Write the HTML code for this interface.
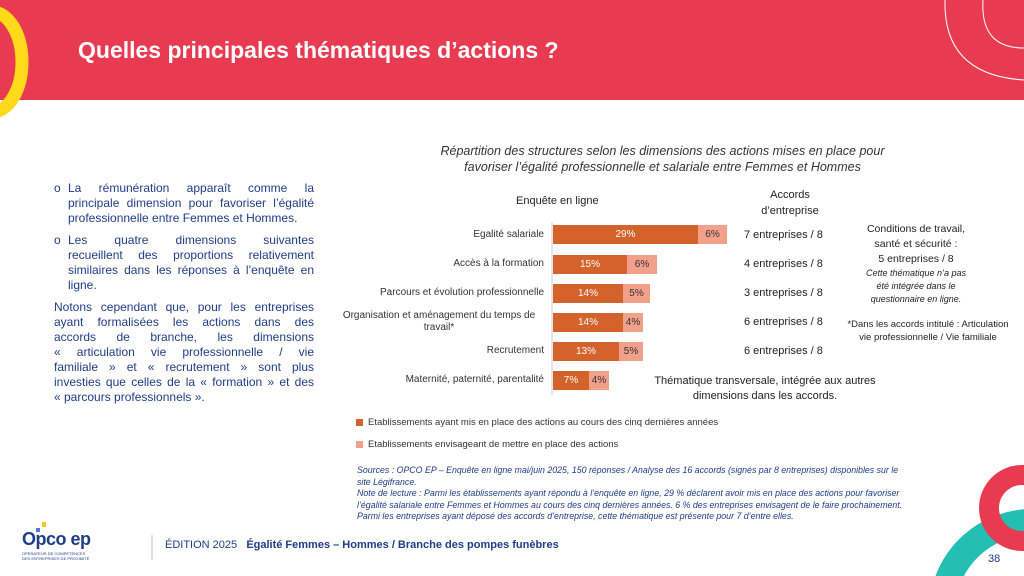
<!DOCTYPE html>
<html><head><meta charset="utf-8"><style>
html,body{margin:0;width:1024px;height:576px;overflow:hidden}
body{position:relative;background:#fff;font-family:"Liberation Sans",Arial,sans-serif}
.a{position:absolute}
.hdr{left:0;top:0;width:1024px;height:100px;background:#E83A50}
.title{left:78px;top:37px;color:#fff;font-weight:bold;font-size:23px}
.lt{color:#1F3C88;font-size:12px;line-height:15px}
.j{display:block;text-align:justify;text-align-last:justify;white-space:nowrap}
.n{display:block;white-space:nowrap}
.lab{font-size:10px;color:#333;text-align:right;width:200px;left:344px;line-height:12px}
.bd{background:#D3622B;height:19px;color:#fff;font-size:10px;text-align:center;line-height:19px}
.bl{background:#F2A08A;height:19px;color:#333;font-size:10px;text-align:center;line-height:19px}
.r{font-size:11px;color:#222}
.src{left:357px;top:465px;width:620px;color:#1F3C88;font-size:8.8px;font-style:italic;line-height:11.6px}
</style></head><body>
<div class="a hdr"></div>
<svg class="a" style="left:0;top:0" width="1024" height="576">
<ellipse cx="-8" cy="62" rx="30" ry="50" fill="none" stroke="#FFD91A" stroke-width="13"/>
<path d="M945,0 Q943,75 1024,80" fill="none" stroke="#fff" stroke-width="1"/>
<path d="M983,0 Q980,48 1024,48" fill="none" stroke="#fff" stroke-width="1"/>
<circle cx="1032" cy="612" r="90" fill="none" stroke="#22BFB2" stroke-width="26"/>
<circle cx="1022" cy="508" r="33" fill="none" stroke="#E83A50" stroke-width="20"/>
<line x1="552" y1="222" x2="552" y2="395" stroke="#ccc" stroke-width="1"/>
<line x1="152" y1="535" x2="152" y2="560" stroke="#bbb"/>
<rect x="36" y="528" width="4" height="4" fill="#4a7bd6"/><rect x="42" y="522" width="4" height="5" fill="#f6c71b"/>
</svg>
<div class="a title">Quelles principales thématiques d’actions ?</div>

<div class="a lt" style="left:54px;top:181px;width:260px">
<div style="position:relative;padding-left:14px"><span style="position:absolute;left:0">o</span><span class="j">La rémunération apparaît comme la</span><span class="j">principale dimension pour favoriser l’égalité</span><span class="n">professionnelle entre Femmes et Hommes.</span></div>
<div style="position:relative;padding-left:14px;margin-top:7px"><span style="position:absolute;left:0">o</span><span class="j">Les quatre dimensions suivantes</span><span class="j">recueillent des proportions relativement</span><span class="j">similaires dans les réponses à l’enquête en</span><span class="n">ligne.</span></div>
<div style="margin-top:7px"><span class="j">Notons cependant que, pour les entreprises</span><span class="j">ayant formalisées les actions dans des</span><span class="j">accords de branche, les dimensions</span><span class="j">« articulation vie professionnelle / vie</span><span class="j">familiale » et « recrutement » sont plus</span><span class="j">investies que celles de la « formation » et des</span><span class="n">« parcours professionnels ».</span></div>
</div>

<div class="a" style="left:390px;top:143px;width:545px;text-align:center;font-style:italic;color:#333;font-size:12.5px;line-height:16px">Répartition des structures selon les dimensions des actions mises en place pour<br>favoriser l’égalité professionnelle et salariale entre Femmes et Hommes</div>
<div class="a r" style="left:516px;top:195px">Enquête en ligne</div>
<div class="a r" style="left:740px;top:187px;width:100px;text-align:center;line-height:16px">Accords<br>d’entreprise</div>

<div class="a lab" style="top:229px">Egalité salariale</div>
<div class="a lab" style="top:258px">Accès à la formation</div>
<div class="a lab" style="top:287px">Parcours et évolution professionnelle</div>
<div class="a lab" style="top:310px;width:210px;left:334px;text-align:center">Organisation et aménagement du temps de travail*</div>
<div class="a lab" style="top:345px">Recrutement</div>
<div class="a lab" style="top:374px">Maternité, paternité, parentalité</div>

<div class="a bd" style="left:553px;top:225px;width:145px">29%</div><div class="a bl" style="left:698px;top:225px;width:29px">6%</div>
<div class="a bd" style="left:553px;top:255px;width:74px">15%</div><div class="a bl" style="left:627px;top:255px;width:30px">6%</div>
<div class="a bd" style="left:553px;top:284px;width:70px">14%</div><div class="a bl" style="left:623px;top:284px;width:27px">5%</div>
<div class="a bd" style="left:553px;top:313px;width:70px">14%</div><div class="a bl" style="left:623px;top:313px;width:20px">4%</div>
<div class="a bd" style="left:553px;top:342px;width:66px">13%</div><div class="a bl" style="left:619px;top:342px;width:24px">5%</div>
<div class="a bd" style="left:553px;top:371px;width:36px">7%</div><div class="a bl" style="left:589px;top:371px;width:20px">4%</div>

<div class="a r" style="left:744px;top:229px">7 entreprises / 8</div>
<div class="a r" style="left:744px;top:258px">4 entreprises / 8</div>
<div class="a r" style="left:744px;top:287px">3 entreprises / 8</div>
<div class="a r" style="left:744px;top:316px">6 entreprises / 8</div>
<div class="a r" style="left:744px;top:345px">6 entreprises / 8</div>
<div class="a r" style="left:650px;top:374px;width:230px;text-align:center;line-height:15px">Thématique transversale, intégrée aux autres dimensions dans les accords.</div>

<div class="a" style="left:846px;top:222px;width:140px;text-align:center;font-size:10.5px;color:#222;line-height:15px">Conditions de travail,<br>santé et sécurité :<br>5 entreprises / 8<br><i style="font-size:9px;line-height:13px;display:block">Cette thématique n’a pas<br>été intégrée dans le<br>questionnaire en ligne.</i></div>
<div class="a" style="left:840px;top:318px;width:176px;text-align:center;font-size:9.5px;color:#222;line-height:13px">*Dans les accords intitulé : Articulation<br>vie professionnelle / Vie familiale</div>

<div class="a" style="left:356px;top:419px;width:7px;height:7px;background:#D3622B"></div>
<div class="a" style="left:368px;top:417px;font-size:9.5px;color:#333">Etablissements ayant mis en place des actions au cours des cinq dernières années</div>
<div class="a" style="left:356px;top:441px;width:7px;height:7px;background:#F2A08A"></div>
<div class="a" style="left:368px;top:439px;font-size:9.5px;color:#333">Etablissements envisageant de mettre en place des actions</div>

<div class="a src">Sources : OPCO EP – Enquête en ligne mai/juin 2025, 150 réponses / Analyse des 16 accords (signés par 8 entreprises) disponibles sur le<br>site Légifrance.<br>Note de lecture : Parmi les établissements ayant répondu à l’enquête en ligne, 29 % déclarent avoir mis en place des actions pour favoriser<br>l’égalité salariale entre Femmes et Hommes au cours des cinq dernières années. 6 % des entreprises envisagent de le faire prochainement.<br>Parmi les entreprises ayant déposé des accords d’entreprise, cette thématique est présente pour 7 d’entre elles.</div>

<div class="a" style="left:22px;top:529px;color:#1F3C88;font-weight:bold;font-size:18px;letter-spacing:-0.5px">Opco ep</div>
<div class="a" style="left:22px;top:551px;color:#1F3C88;font-size:4px;line-height:5px">OPÉRATEUR DE COMPÉTENCES<br>DES ENTREPRISES DE PROXIMITÉ</div>
<div class="a" style="left:165px;top:539px;color:#1F3C88;font-size:11px">ÉDITION 2025&nbsp;&nbsp; <b>Égalité Femmes – Hommes / Branche des pompes funèbres</b></div>
<div class="a" style="left:988px;top:553px;color:#1F3C88;font-size:11px">38</div>
</body></html>
